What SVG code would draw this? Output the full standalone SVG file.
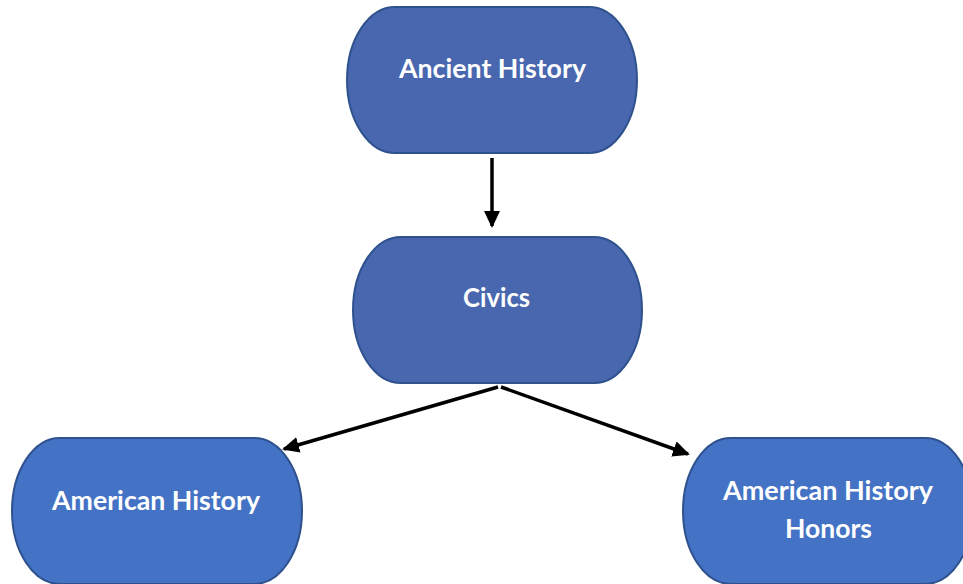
<svg xmlns="http://www.w3.org/2000/svg" width="963" height="584" viewBox="0 0 963 584">
  <defs>
    <style>
      .n1 { fill: #4967AE; stroke: #2F528F; stroke-width: 2; }
      .n2 { fill: #4472C4; stroke: #2F528F; stroke-width: 2; }
      .t { fill: #FFFFFF; font-family: Lato, "Open Sans", "Liberation Sans", sans-serif; font-weight: bold; font-size: 26px; text-anchor: middle; }
      .c { stroke: #000000; stroke-width: 3.5; fill: none; marker-end: url(#ah); }
    </style>
    <marker id="ah" markerUnits="userSpaceOnUse" markerWidth="20" markerHeight="18" refX="15" refY="8" orient="auto">
      <path d="M0,0 L17,8 L0,16 z" fill="#000000"/>
    </marker>
  </defs>
  <rect width="963" height="584" fill="#FFFFFF"/>
  <g id="connectors">
    <line class="c" x1="492" y1="158" x2="492" y2="226"/>
    <line class="c" x1="498" y1="387" x2="284" y2="449"/>
    <line class="c" x1="501" y1="387" x2="688" y2="454"/>
  </g>
  <g id="ancient-history">
    <rect class="n1" x="347" y="7" width="290" height="146" rx="48" ry="73"/>
    <text class="t" x="492.5" y="78" textLength="187" lengthAdjust="spacingAndGlyphs">Ancient History</text>
  </g>
  <g id="civics">
    <rect class="n1" x="353" y="237" width="289" height="146" rx="48" ry="73"/>
    <text class="t" x="496.5" y="307" textLength="67" lengthAdjust="spacingAndGlyphs">Civics</text>
  </g>
  <g id="american-history">
    <rect class="n2" x="12" y="438" width="290" height="146" rx="48" ry="73"/>
    <text class="t" x="156" y="510" textLength="208" lengthAdjust="spacingAndGlyphs">American History</text>
  </g>
  <g id="american-history-honors">
    <rect class="n2" x="683" y="438" width="290" height="146" rx="48" ry="73"/>
    <text class="t" x="828" y="500" textLength="210" lengthAdjust="spacingAndGlyphs">American History</text>
    <text class="t" x="828.5" y="538" textLength="87" lengthAdjust="spacingAndGlyphs">Honors</text>
  </g>
</svg>
